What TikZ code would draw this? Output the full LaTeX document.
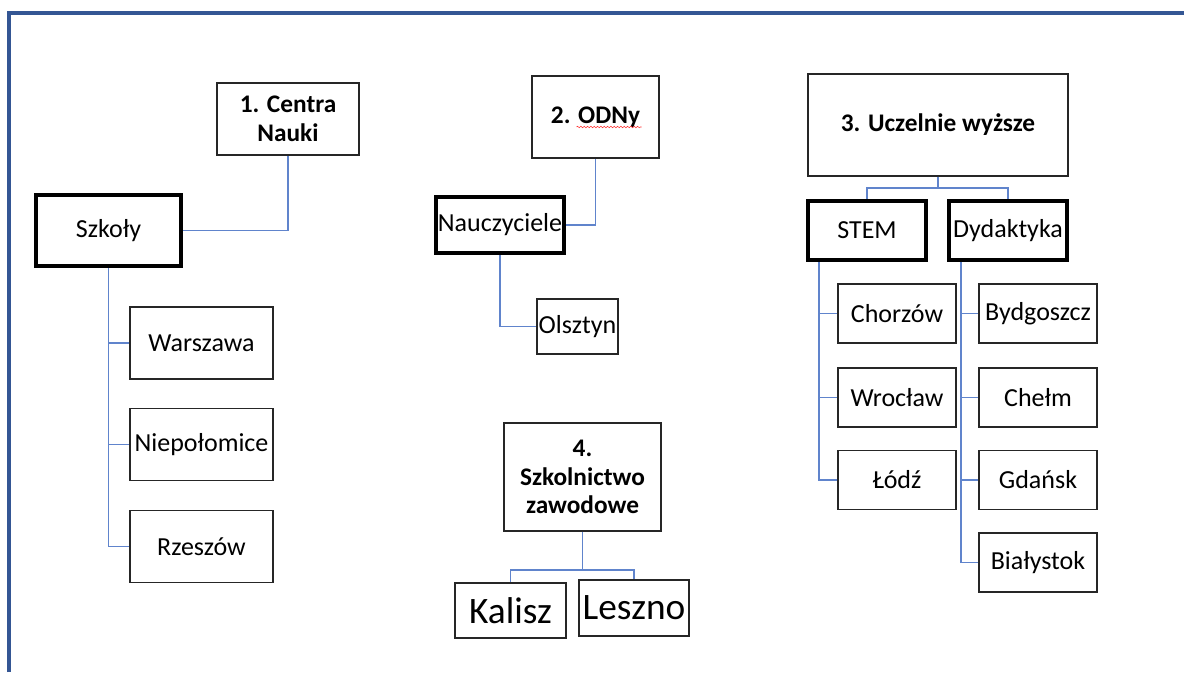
\documentclass[tikz,border=0pt]{standalone}
\usepackage{fontspec}
\setmainfont{Carlito}
\usetikzlibrary{calc,decorations.pathmorphing}
\definecolor{linkblue}{RGB}{96,132,204}
\definecolor{frameblue}{RGB}{52,86,148}

\begin{document}
\begin{tikzpicture}[x=0.75pt, y=-0.75pt,
    box/.style={rectangle, draw=black!85, line width=1pt, inner sep=0pt, align=center, font=\fontsize{19.5}{23}\selectfont, minimum width=88.5pt, minimum height=44.25pt},
    headbox/.style={box, font=\fontsize{19}{21.5}\selectfont\bfseries},
    groupbox/.style={box, draw=black, line width=3pt},
    bigbox/.style={box, font=\fontsize{28}{32}\selectfont},
    link/.style={draw=linkblue, line width=1.1pt},
    spell/.style={draw=red!80, line width=0.4pt, decorate, decoration={snake, amplitude=0.6pt, segment length=2.5pt}}]
    \useasboundingbox (0,0) rectangle (1184,672);
    \draw[frameblue, line width=3pt] (8.5,672) -- (8.5,12.5) -- (1184,12.5);

    %Nodes
    \node[headbox, minimum width=106.5pt, minimum height=54pt]    (cn)  at (288,119)     {1. Centra\\Nauki};
    \node[groupbox, minimum width=108.75pt, minimum height=53.25pt] (szk) at (108.5,230.5) {Szkoły};
    \node[box, minimum width=107.25pt, minimum height=54pt]       (war) at (201.5,343)   {Warszawa};
    \node[box, minimum width=107.25pt, minimum height=54pt]       (nie) at (201.5,444.5) {Niepołomice};
    \node[box, minimum width=107.25pt, minimum height=54pt]       (rze) at (201.5,546.5) {Rzeszów};

    \node[headbox, minimum width=95.25pt, minimum height=61.5pt]  (odn) at (595.5,117)   {2. ODNy};
    \node[groupbox, minimum width=96pt, minimum height=42pt]      (nau) at (500,225)     {Nauczyciele};
    \node[box, minimum width=60.75pt, minimum height=41.25pt]     (ols) at (577.5,326.5) {Olsztyn};

    \node[headbox, minimum width=195pt, minimum height=76.5pt]    (ucz) at (938,125)     {3. Uczelnie wyższe};
    \node[groupbox]  (stem) at (867,230.5)  {STEM};
    \node[groupbox]  (dyd)  at (1008,230.5) {Dydaktyka};
    \node[box]       (cho)  at (897,313.5)  {Chorzów};
    \node[box]       (wro)  at (897,397.5)  {Wrocław};
    \node[box]       (lod)  at (897,480)    {Łódź};
    \node[box]       (byd)  at (1038,313.5) {Bydgoszcz};
    \node[box]       (che)  at (1038,397.5) {Chełm};
    \node[box]       (gda)  at (1038,480)   {Gdańsk};
    \node[box]       (bia)  at (1038,562.5) {Białystok};

    \node[headbox, minimum width=117.75pt, minimum height=81pt]   (szz) at (582.5,477)   {4.\\Szkolnictwo\\zawodowe};
    \node[bigbox, minimum width=83.25pt, minimum height=41.25pt]  (kal) at (510.5,610.5) {Kalisz};
    \node[bigbox, minimum width=82.5pt, minimum height=42pt]      (les) at (634,608)     {Leszno};

    \coordinate (ujoin) at (938,188);
    \coordinate (zjoin) at (582.5,570);
    \coordinate (stemtr) at ($(stem.south west)+(13,0)$);
    \coordinate (dydtr)  at ($(dyd.south west)+(14,0)$);

    %Lines
    \draw[link] (szk.east) -| (cn.south);
    \draw[link] (szk.south) |- (war.west);
    \draw[link] (szk.south) |- (nie.west);
    \draw[link] (szk.south) |- (rze.west);
    \draw[link] (nau.east) -| (odn.south);
    \draw[link] (nau.south) |- (ols.west);
    \draw[link] (ucz.south) -- (ujoin) -| (stem.north);
    \draw[link] (ujoin) -| (dyd.north);
    \draw[link] (stemtr) |- (cho.west);
    \draw[link] (stemtr) |- (wro.west);
    \draw[link] (stemtr) |- (lod.west);
    \draw[link] (dydtr) |- (byd.west);
    \draw[link] (dydtr) |- (che.west);
    \draw[link] (dydtr) |- (gda.west);
    \draw[link] (dydtr) |- (bia.west);
    \draw[link] (szz.south) -- (zjoin) -| (kal.north);
    \draw[link] (zjoin) -| (les.north);
    \draw[spell] ($(odn.center)+(-19,10)$) -- ($(odn.center)+(46,10)$);
\end{tikzpicture}
\end{document}
